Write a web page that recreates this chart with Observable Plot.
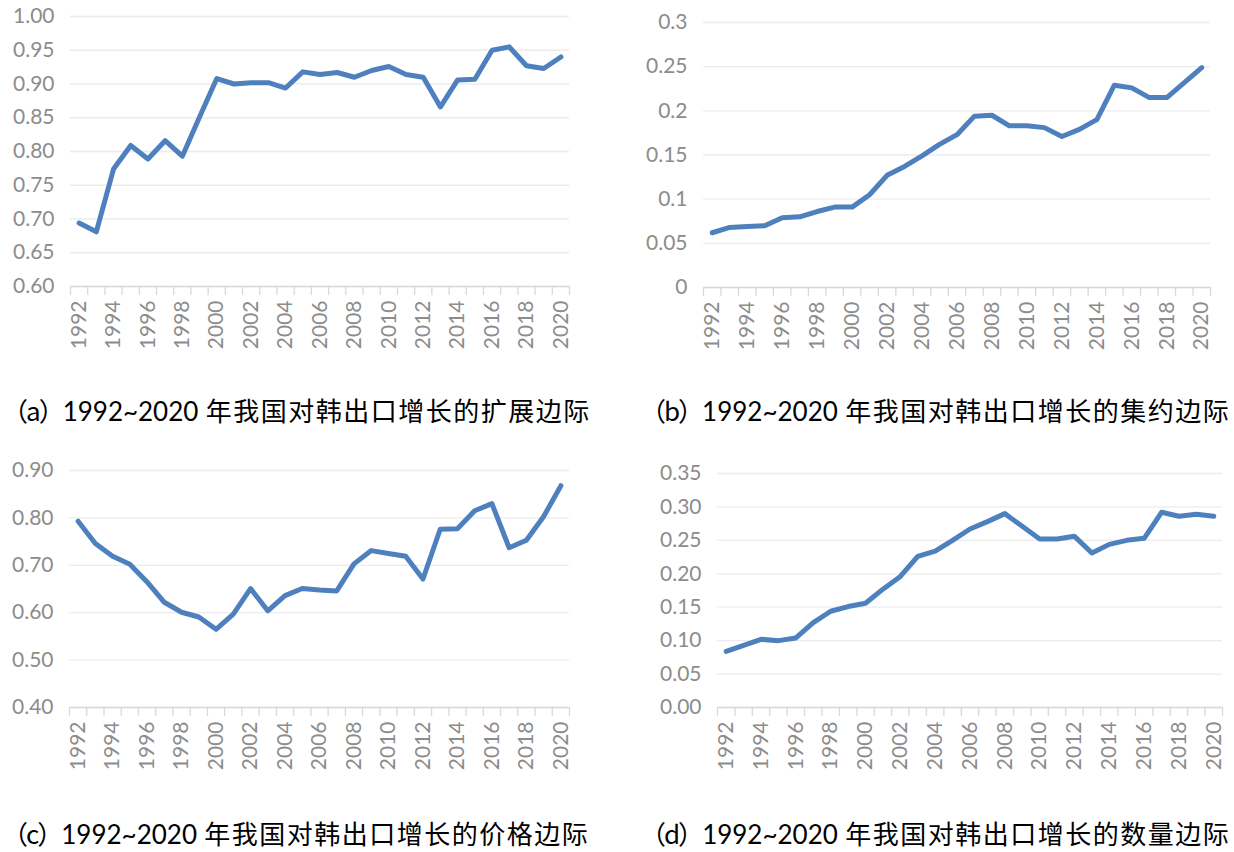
<!DOCTYPE html>
<html><head><meta charset="utf-8">
<script src="https://cdn.jsdelivr.net/npm/d3@7"></script>
<script src="https://cdn.jsdelivr.net/npm/@observablehq/plot@0.6"></script>
<style>
body{margin:0;background:#fff;width:1234px;height:852px;position:relative;overflow:hidden}
.panel{position:absolute}
.cap{position:absolute;font-family:"Noto Sans CJK SC";font-size:26px;color:#000;white-space:nowrap;line-height:1}
.cap .par{letter-spacing:-2px}
.cap .num{font-family:Lato;font-size:26px}
.cap .cjk{letter-spacing:1.5px}
</style></head><body>
<script>
const years = [1992,1993,1994,1995,1996,1997,1998,1999,2000,2001,2002,2003,2004,2005,2006,2007,2008,2009,2010,2011,2012,2013,2014,2015,2016,2017,2018,2019,2020];
const labelYears = [1992,1994,1996,1998,2000,2002,2004,2006,2008,2010,2012,2014,2016,2018,2020];
// (a) extensive margin
const extensive = [0.694,0.681,0.774,0.809,0.789,0.816,0.793,0.851,0.908,0.900,0.902,0.902,0.894,0.918,0.914,0.917,0.910,0.920,0.926,0.914,0.910,0.866,0.906,0.907,0.950,0.955,0.927,0.923,0.940];
// (b) intensive margin
const intensive = [0.062,0.068,0.069,0.070,0.079,0.080,0.086,0.091,0.091,0.105,0.127,0.137,0.149,0.162,0.173,0.194,0.195,0.183,0.183,0.181,0.171,0.179,0.190,0.229,0.226,0.215,0.215,0.232,0.249];
// (c) price margin
const price = [0.793,0.746,0.719,0.702,0.665,0.622,0.601,0.591,0.565,0.597,0.651,0.604,0.636,0.651,0.648,0.646,0.703,0.731,0.725,0.719,0.671,0.776,0.777,0.815,0.830,0.737,0.753,0.803,0.868];
// (d) quantity margin
const quantity = [0.084,0.093,0.102,0.100,0.104,0.127,0.144,0.151,0.156,0.177,0.196,0.226,0.234,0.250,0.267,0.278,0.290,0.271,0.252,0.252,0.256,0.231,0.244,0.250,0.253,0.292,0.286,0.289,0.286];

const ticksA = [0.60,0.65,0.70,0.75,0.80,0.85,0.90,0.95,1.00];
const ticksB = [0,0.05,0.1,0.15,0.2,0.25,0.3];
const ticksC = [0.40,0.50,0.60,0.70,0.80,0.90];
const ticksD = [0.00,0.05,0.10,0.15,0.20,0.25,0.30,0.35];

const captions = [
  ["（a）", "1992~2020", " 年我国对韩出口增长的扩展边际"],
  ["（b）", "1992~2020", " 年我国对韩出口增长的集约边际"],
  ["（c）", "1992~2020", " 年我国对韩出口增长的价格边际"],
  ["（d）", "1992~2020", " 年我国对韩出口增长的数量边际"]
];

const fmt2 = d => d.toFixed(2);
const fmtG = d => String(+d.toFixed(2));

function panel(values, yTicks, yFmt, box) {
  const data = years.map((y, i) => ({year: y, value: values[i]}));
  const bounds = years.map(y => y - 0.5).concat([years[years.length - 1] + 0.5]);
  const ymin = yTicks[0];
  const plot = Plot.plot({
    width: box.width,
    height: box.height,
    marginLeft: box.ml,
    marginRight: box.mr,
    marginTop: box.mt,
    marginBottom: box.mb,
    style: {fontFamily: "Lato", fontSize: "21px", color: "#8c8c8c", background: "white", overflow: "visible"},
    x: {type: "linear", domain: [years[0] - 0.5, years[years.length - 1] + 0.5], label: null},
    y: {domain: [ymin, yTicks[yTicks.length - 1]], label: null},
    marks: [
      Plot.gridY(yTicks, {stroke: "#ececec", strokeOpacity: 1, strokeWidth: 1.3}),
      Plot.ruleY([ymin], {stroke: "#d9d9d9", strokeWidth: 1.3}),
      Plot.axisX({ticks: bounds, tickSize: 9, tickFormat: () => "", stroke: "#d9d9d9", strokeWidth: 1.3}),
      Plot.axisX({ticks: labelYears, tickSize: 0, tickPadding: 14, tickRotate: -90, tickFormat: d => String(d), fontSize: 21}),
      Plot.axisY({ticks: yTicks, tickSize: 0, tickPadding: 16, tickFormat: yFmt, fontSize: 21}),
      Plot.lineY(data, {x: "year", y: "value", stroke: "#4e80bd", strokeWidth: 5, strokeLinejoin: "round", strokeLinecap: "round"})
    ]
  });
  const div = document.createElement("div");
  div.className = "panel";
  div.style.left = box.left + "px";
  div.style.top = box.top + "px";
  div.appendChild(plot);
  document.body.appendChild(div);
}

panel(extensive, ticksA, fmt2, {left: 0, top: 0, width: 600, height: 356, ml: 70, mr: 31, mt: 16, mb: 70});
panel(intensive, ticksB, fmtG, {left: 617, top: 0, width: 617, height: 357, ml: 86, mr: 24, mt: 22, mb: 70});
panel(price, ticksC, fmt2, {left: 0, top: 450, width: 600, height: 327, ml: 69, mr: 31, mt: 20, mb: 70});
panel(quantity, ticksD, fmt2, {left: 617, top: 450, width: 617, height: 327, ml: 100, mr: 12, mt: 23, mb: 70});

const capPos = [[2, 397], [640, 397], [2, 820], [640, 820]];
captions.forEach((c, i) => {
  const d = document.createElement("div");
  d.className = "cap";
  d.style.left = capPos[i][0] + "px";
  d.style.top = capPos[i][1] + "px";
  const s1 = document.createElement("span"); s1.className = "par"; s1.textContent = c[0];
  const s2 = document.createElement("span"); s2.className = "num"; s2.textContent = c[1];
  const s3 = document.createElement("span"); s3.className = "cjk"; s3.textContent = c[2];
  d.append(s1, s2, s3);
  document.body.appendChild(d);
});
</script>
</body></html>
